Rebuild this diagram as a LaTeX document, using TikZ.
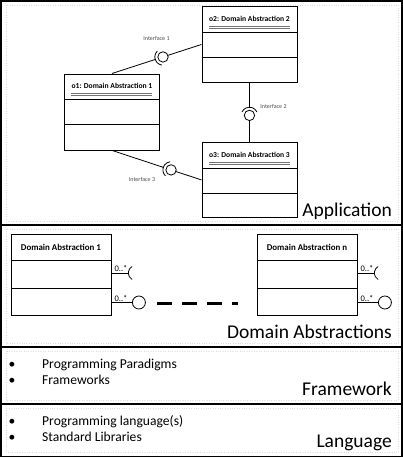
\documentclass[tikz,border=0pt]{standalone}
\usepackage{fontspec}
\setmainfont{Carlito}
\usetikzlibrary{calc}
\begin{document}
\begin{tikzpicture}[x=1pt,y=1pt,
  umlbox/.style={draw, line width=0.9pt, minimum width=95pt, minimum height=76pt, inner sep=0pt, anchor=north west},
  dabox/.style={draw, line width=0.9pt, minimum width=100pt, minimum height=81pt, inner sep=0pt, anchor=north west},
  layer/.style={draw, line width=1.3pt},
  guide/.style={draw=black!13, dotted, line width=0.4pt},
  conn/.style={draw, line width=0.8pt},
  objtitle/.style={font=\fontsize{7.6}{9}\selectfont\bfseries, inner sep=0pt},
  datitle/.style={font=\fontsize{8.9}{10}\selectfont\bfseries, inner sep=0pt},
  uline/.style={draw=black!55, line width=0.5pt},
  iflabel/.style={font=\fontsize{6}{7}\selectfont, text=black!70, inner sep=0pt},
  mult/.style={font=\fontsize{8.5}{9}\selectfont, inner sep=0.5pt},
  layerlabel/.style={font=\fontsize{19.5}{22}\selectfont, inner sep=0pt, anchor=base east},
  itemtext/.style={font=\fontsize{13.6}{15}\selectfont, inner sep=0pt, anchor=base west},
  bullettext/.style={font=\fontsize{13.6}{15}\selectfont, inner sep=0pt, anchor=base},
  dashline/.style={line width=3pt, dash pattern=on 15pt off 10pt}
]
\useasboundingbox (0,0) rectangle (403,-458);
\fill[white] (0,0) rectangle (403,-458);

% layers
\draw[layer] (1,-1) rectangle (402,-225);
\draw[layer] (1,-225) rectangle (402,-347);
\draw[layer] (1,-347) rectangle (402,-404);
\draw[layer] (1,-404) rectangle (402,-456.5);
\draw[guide] (6,-5) rectangle (398,-221);
\draw[guide] (6,-229) rectangle (398,-343);
\draw[guide] (6,-351) rectangle (398,-400);
\draw[guide] (6,-408) rectangle (398,-452);

% application objects
\node[umlbox] (o1) at (64,-73.5) {};
\node[umlbox] (o2) at (201.5,-6) {};
\node[umlbox, minimum height=75pt] (o3) at (201.5,-142) {};
\foreach \b/\t in {o1/o1: Domain Abstraction 1, o2/o2: Domain Abstraction 2, o3/o3: Domain Abstraction 3}{
  \draw[line width=0.9pt] ($(\b.north west)+(0,-26)$) -- ($(\b.north east)+(0,-26)$);
  \draw[line width=0.9pt] ($(\b.north west)+(0,-51)$) -- ($(\b.north east)+(0,-51)$);
  \node[objtitle] (\b t) at ($(\b.north)+(0,-12.8)$) {\t};
  \draw[uline] ($(\b t.west)+(0,-7)$) -- ($(\b t.east)+(0,-7)$);
  \draw[uline] ($(\b t.west)+(0,-9.2)$) -- ($(\b t.east)+(0,-9.2)$);
}

% interfaces (socket side, ball side)
\newcommand\ifacelink[3]{%
  \draw[conn] (#1) -- (#2);
  \fill[white] (#2) circle (7.4);
  \draw[conn] (#2) -- (#3);
  \draw[conn, fill=white] (#2) circle (5.2);
  \draw[conn] let \p1=($(#3)-(#1)$), \n1={atan2(\y1,\x1)+180} in
    ($(#2)+(\n1-65:8.2)$) arc[start angle=\n1-65, end angle=\n1+65, radius=8.2];
}
\coordinate (if1) at ($(o1.north)!0.57!(o2.west)$);
\coordinate (if2) at ($(o2.south)!0.55!(o3.north)$);
\coordinate (if3) at ($(o1.south)!0.66!(o3.west)$);
\ifacelink{o1.north}{if1}{o2.west}
\ifacelink{o2.south}{if2}{o3.north}
\ifacelink{o1.south}{if3}{o3.west}
\node[iflabel] (l1) at (156.5,-38.5) {Interface 1};
\node[iflabel] (l2) at (273.5,-106) {Interface 2};
\node[iflabel] (l3) at (142,-179.5) {Interface 3};

\node[layerlabel] (app) at (392,-216) {Application};

% domain abstractions
\node[dabox] (da1) at (10.5,-234) {};
\node[dabox] (dan) at (256.5,-234) {};
\foreach \b/\t in {da1/Domain Abstraction 1, dan/Domain Abstraction n}{
  \draw[line width=0.9pt] ($(\b.north west)+(0,-26)$) -- ($(\b.north east)+(0,-26)$);
  \draw[line width=0.9pt] ($(\b.north west)+(0,-54)$) -- ($(\b.north east)+(0,-54)$);
  \node[datitle] (\b t) at ($(\b.north)+(0,-13.5)$) {\t};
  \draw[conn] ($(\b.north east)+(0,-39)$) coordinate (\b s0) -- ++(17,0) coordinate (\b s);
  \draw[conn] ($(\b s)+(7.5,0)+(120:7.5)$) arc[start angle=120, end angle=240, radius=7.5];
  \draw[conn] ($(\b.north east)+(0,-68.5)$) coordinate (\b b0) -- ++(21,0) coordinate (\b b);
  \draw[conn] ($(\b b)+(6.5,0)$) circle (6.5);
  \node[mult, anchor=south west] at ($(\b s0)+(2.5,0.5)$) {0..*};
  \node[mult, anchor=south west] at ($(\b b0)+(2.5,0.5)$) {0..*};
}
\coordinate (dstart) at (157,-303);
\coordinate (dend) at (238,-303);
\draw[dashline] (dstart) -- (dend);
\node[layerlabel] (dal) at (392,-338.5) {Domain Abstractions};

% framework
\node[bullettext] (fb1) at (12,-368.5) {•};
\node[itemtext] (fi1) at (42,-368.5) {Programming Paradigms};
\node[bullettext] (fb2) at (12,-384.5) {•};
\node[itemtext] (fi2) at (42,-384.5) {Frameworks};
\node[layerlabel] (fwl) at (392,-395) {Framework};

% language
\node[bullettext] (lb1) at (12,-425) {•};
\node[itemtext] (li1) at (42,-425) {Programming language(s)};
\node[bullettext] (lb2) at (12,-441) {•};
\node[itemtext] (li2) at (42,-441) {Standard Libraries};
\node[layerlabel] (lgl) at (392,-447) {Language};
\end{tikzpicture}
\end{document}
